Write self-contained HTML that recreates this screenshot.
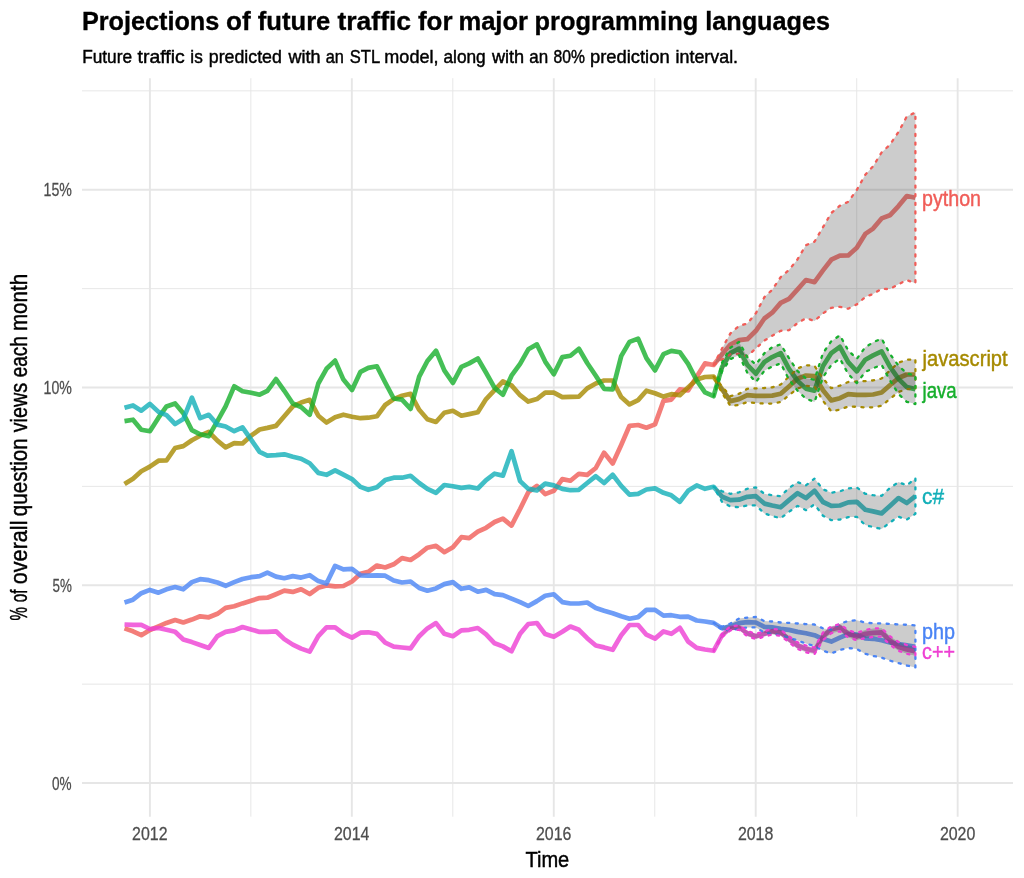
<!DOCTYPE html>
<html lang="en"><head><meta charset="utf-8"><title>Projections of future traffic for major programming languages</title>
<style>html,body{margin:0;padding:0;background:#fff}body{width:1024px;height:878px;overflow:hidden}svg{display:block}text{font-family:"Liberation Sans",sans-serif}.tk{font-size:18.3px;fill:#4D4D4D;stroke:#4D4D4D;stroke-width:.27px}.ax{font-size:22.3px;fill:#000;stroke:#000;stroke-width:.45px}.lb{font-size:21.6px;stroke-width:.42px}</style></head><body>
<svg width="1024" height="878" viewBox="0 0 1024 878">
<rect width="1024" height="878" fill="#fff"/>
<g stroke="#E6E6E6" fill="none">
<line x1="82.00" x2="1013.00" y1="684.16" y2="684.16" stroke-width="0.95"/>
<line x1="82.00" x2="1013.00" y1="486.39" y2="486.39" stroke-width="0.95"/>
<line x1="82.00" x2="1013.00" y1="288.61" y2="288.61" stroke-width="0.95"/>
<line x1="82.00" x2="1013.00" y1="90.84" y2="90.84" stroke-width="0.95"/>
<line x1="250.87" x2="250.87" y1="78.20" y2="816.70" stroke-width="0.95"/>
<line x1="452.81" x2="452.81" y1="78.20" y2="816.70" stroke-width="0.95"/>
<line x1="654.75" x2="654.75" y1="78.20" y2="816.70" stroke-width="0.95"/>
<line x1="856.69" x2="856.69" y1="78.20" y2="816.70" stroke-width="0.95"/>
<line x1="82.00" x2="1013.00" y1="783.05" y2="783.05" stroke-width="1.9"/>
<line x1="82.00" x2="1013.00" y1="585.27" y2="585.27" stroke-width="1.9"/>
<line x1="82.00" x2="1013.00" y1="387.50" y2="387.50" stroke-width="1.9"/>
<line x1="82.00" x2="1013.00" y1="189.72" y2="189.72" stroke-width="1.9"/>
<line x1="149.90" x2="149.90" y1="78.20" y2="816.70" stroke-width="1.9"/>
<line x1="351.84" x2="351.84" y1="78.20" y2="816.70" stroke-width="1.9"/>
<line x1="553.78" x2="553.78" y1="78.20" y2="816.70" stroke-width="1.9"/>
<line x1="755.72" x2="755.72" y1="78.20" y2="816.70" stroke-width="1.9"/>
<line x1="957.66" x2="957.66" y1="78.20" y2="816.70" stroke-width="1.9"/>
</g>
<g fill="none" stroke-width="4.7" stroke-linejoin="round" stroke-linecap="butt" stroke-opacity="0.8">
<polyline stroke="#F05D58" points="124.5,628.4 133.0,631.3 141.3,635.2 149.9,630.0 158.5,626.4 166.5,622.9 175.1,620.0 183.3,622.5 191.9,619.6 200.2,616.3 208.8,617.3 217.4,613.8 225.6,607.9 234.2,606.3 242.5,603.4 251.1,600.7 259.6,598.1 267.4,597.7 276.0,594.2 284.3,590.7 292.8,591.9 301.1,589.3 309.7,594.0 318.3,587.8 326.5,585.4 335.1,586.4 343.4,586.0 352.0,581.5 360.5,573.7 368.3,571.8 376.9,565.5 385.2,567.5 393.7,564.3 402.0,558.1 410.6,560.0 419.2,554.2 427.4,547.7 436.0,545.8 444.3,552.2 452.9,547.3 461.4,537.2 469.2,538.2 477.8,531.7 486.1,527.8 494.6,522.0 502.9,518.6 511.5,525.6 520.1,509.0 528.3,492.2 536.9,485.9 545.2,494.1 553.8,490.8 562.3,479.1 570.4,480.7 578.9,473.8 587.2,474.8 595.8,468.0 604.1,452.7 612.7,463.5 621.2,444.9 629.5,425.8 638.1,425.0 646.4,427.7 655.0,424.4 663.5,400.9 671.3,399.6 679.8,389.4 688.1,390.4 696.7,376.7 705.0,363.4 713.6,365.0 722.1,354.3 730.4,344.5 739.0,340.2 747.3,339.2 755.9,330.8 764.4,318.5 772.2,312.7 780.7,302.9 789.0,298.8 797.6,289.3 805.9,280.0 814.5,282.1 823.0,270.4 831.3,259.7 839.9,255.6 848.2,255.4 856.8,247.8 865.3,233.9 873.1,228.6 881.6,218.4 889.9,215.3 898.5,206.1 906.8,196.0 915.4,197.7"/>
<polyline stroke="#A68A00" points="124.5,484.1 133.0,478.7 141.3,471.2 149.9,466.6 158.5,460.7 166.5,460.5 175.1,448.0 183.3,446.1 191.9,440.2 200.2,435.7 208.8,431.8 217.4,440.6 225.6,447.4 234.2,443.1 242.5,443.5 251.1,435.7 259.6,429.5 267.4,427.9 276.0,425.9 284.3,416.2 292.8,406.4 301.1,402.6 309.7,399.8 318.3,415.7 326.5,422.5 335.1,417.3 343.4,414.7 352.0,416.7 360.5,418.2 368.3,417.7 376.9,416.3 385.2,405.0 393.7,399.1 402.0,395.8 410.6,393.8 419.2,409.8 427.4,419.2 436.0,422.0 444.3,412.8 452.9,410.8 461.4,415.7 469.2,414.1 477.8,412.2 486.1,399.1 494.6,390.1 502.9,381.5 511.5,385.4 520.1,395.2 528.3,401.6 536.9,399.1 545.2,392.7 553.8,392.7 562.3,397.1 570.4,396.8 578.9,396.6 587.2,388.4 595.8,383.5 604.1,380.5 612.7,380.5 621.2,397.1 629.5,404.4 638.1,400.1 646.4,390.7 655.0,393.2 663.5,396.6 671.3,394.2 679.8,395.2 688.1,387.4 696.7,379.6 705.0,377.0 713.6,376.6 722.1,389.3 730.4,401.1 739.0,399.1 747.3,395.2 755.9,395.8 764.4,395.8 772.2,395.6 780.7,393.8 789.0,386.4 797.6,378.6 805.9,375.5 814.5,376.0 823.0,390.2 831.3,400.4 839.9,398.2 848.2,394.1 856.8,394.9 865.3,394.9 873.1,394.5 881.6,392.5 889.9,385.2 898.5,378.0 906.8,374.5 915.4,374.5"/>
<polyline stroke="#16AF2C" points="124.5,421.1 133.0,419.7 141.3,429.8 149.9,431.2 158.5,417.7 166.5,406.4 175.1,403.5 183.3,413.2 191.9,430.2 200.2,434.3 208.8,436.1 217.4,421.1 225.6,406.4 234.2,386.3 242.5,391.2 251.1,392.7 259.6,394.7 267.4,390.8 276.0,379.1 284.3,390.8 292.8,403.5 301.1,407.1 309.7,414.8 318.3,383.5 326.5,368.8 335.1,360.6 343.4,379.6 352.0,389.9 360.5,371.8 368.3,367.9 376.9,366.3 385.2,382.5 393.7,398.5 402.0,399.7 410.6,408.9 419.2,376.6 427.4,361.0 436.0,350.7 444.3,370.4 452.9,382.9 461.4,366.9 469.2,363.4 477.8,358.5 486.1,372.7 494.6,387.9 502.9,394.8 511.5,375.7 520.1,363.9 528.3,349.3 536.9,344.4 545.2,361.6 553.8,374.3 562.3,357.1 570.4,355.7 578.9,348.7 587.2,363.0 595.8,375.7 604.1,388.8 612.7,389.3 621.2,356.1 629.5,341.9 638.1,338.6 646.4,358.1 655.0,370.4 663.5,354.2 671.3,350.9 679.8,352.2 688.1,363.9 696.7,380.5 705.0,392.3 713.6,396.2 722.1,366.9 730.4,353.2 739.0,348.7 747.3,364.9 755.9,373.7 764.4,362.0 772.2,357.1 780.7,353.2 789.0,368.8 797.6,380.9 805.9,388.6 814.5,390.6 823.0,366.1 831.3,353.1 839.9,346.8 848.2,362.2 856.8,371.3 865.3,359.7 873.1,355.4 881.6,351.4 889.9,366.6 898.5,378.8 906.8,387.1 915.4,389.1"/>
<polyline stroke="#12AFB8" points="124.5,407.8 133.0,405.4 141.3,410.7 149.9,403.9 158.5,411.9 166.5,415.2 175.1,424.0 183.3,419.1 191.9,397.6 200.2,418.1 208.8,414.8 217.4,424.6 225.6,426.5 234.2,431.2 242.5,427.3 251.1,439.6 259.6,451.9 267.4,455.6 276.0,455.2 284.3,454.3 292.8,456.8 301.1,458.7 309.7,463.3 318.3,472.9 326.5,474.8 335.1,470.3 343.4,474.6 352.0,479.1 360.5,486.9 368.3,489.8 376.9,487.3 385.2,480.1 393.7,477.7 402.0,477.7 410.6,475.8 419.2,483.0 427.4,488.9 436.0,492.8 444.3,485.0 452.9,486.3 461.4,487.9 469.2,486.9 477.8,488.5 486.1,480.1 494.6,473.7 502.9,475.6 511.5,451.2 520.1,481.1 528.3,488.9 536.9,490.4 545.2,483.6 553.8,485.4 562.3,488.9 570.4,490.2 578.9,489.8 587.2,483.0 595.8,476.2 604.1,483.0 612.7,474.8 621.2,485.9 629.5,494.7 638.1,493.8 646.4,489.5 655.0,488.3 663.5,492.8 671.3,495.3 679.8,501.8 688.1,490.8 696.7,485.4 705.0,488.8 713.6,486.8 722.1,496.8 730.4,500.1 739.0,499.7 747.3,496.8 755.9,496.2 764.4,503.6 772.2,505.5 780.7,507.3 789.0,500.1 797.6,493.2 805.9,498.1 814.5,490.7 823.0,502.0 831.3,505.9 839.9,505.5 848.2,502.4 856.8,501.8 865.3,509.8 873.1,511.4 881.6,513.4 889.9,505.9 898.5,498.1 906.8,503.0 915.4,496.2"/>
<polyline stroke="#4A84F5" points="124.5,602.4 133.0,599.7 141.3,593.2 149.9,589.9 158.5,592.7 166.5,589.3 175.1,587.0 183.3,589.3 191.9,582.1 200.2,579.2 208.8,580.2 217.4,582.5 225.6,585.8 234.2,582.1 242.5,579.0 251.1,577.2 259.6,576.1 267.4,572.7 276.0,576.6 284.3,578.2 292.8,576.1 301.1,577.6 309.7,575.2 318.3,581.1 326.5,583.5 335.1,565.9 343.4,569.4 352.0,568.8 360.5,575.3 368.3,575.7 376.9,575.3 385.2,575.7 393.7,580.5 402.0,582.5 410.6,581.5 419.2,588.0 427.4,590.7 436.0,588.4 444.3,584.1 452.9,582.1 461.4,588.8 469.2,587.4 477.8,591.7 486.1,589.9 494.6,594.2 502.9,595.1 511.5,598.6 520.1,602.1 528.3,606.0 536.9,601.1 545.2,595.7 553.8,594.3 562.3,602.1 570.4,603.5 578.9,603.5 587.2,602.5 595.8,608.0 604.1,610.7 612.7,613.2 621.2,616.2 629.5,618.7 638.1,617.1 646.4,609.9 655.0,609.9 663.5,615.6 671.3,615.2 679.8,616.8 688.1,616.6 696.7,620.5 705.0,621.5 713.6,622.9 722.1,628.4 730.4,626.4 739.0,623.1 747.3,622.1 755.9,622.5 764.4,626.8 772.2,627.4 780.7,628.8 789.0,629.9 797.6,631.9 805.9,633.2 814.5,635.2 823.0,639.1 831.3,641.6 839.9,637.7 848.2,634.2 856.8,634.6 865.3,638.3 873.1,638.8 881.6,640.3 889.9,642.4 898.5,644.0 906.8,645.4 915.4,646.9"/>
<polyline stroke="#EE3FD3" points="124.5,624.5 133.0,624.9 141.3,624.9 149.9,629.0 158.5,628.0 166.5,629.8 175.1,631.7 183.3,639.5 191.9,642.1 200.2,645.0 208.8,647.9 217.4,636.2 225.6,631.9 234.2,630.4 242.5,627.0 251.1,629.4 259.6,631.9 267.4,631.9 276.0,631.3 284.3,639.1 292.8,644.6 301.1,648.6 309.7,651.6 318.3,636.2 326.5,627.4 335.1,627.4 343.4,633.7 352.0,637.6 360.5,632.7 368.3,632.3 376.9,633.9 385.2,642.7 393.7,646.6 402.0,647.5 410.6,648.3 419.2,636.2 427.4,628.4 436.0,623.1 444.3,633.7 452.9,636.2 461.4,630.4 469.2,629.8 477.8,628.0 486.1,634.3 494.6,643.3 502.9,646.4 511.5,651.3 520.1,633.8 528.3,624.0 536.9,623.0 545.2,634.1 553.8,636.7 562.3,631.8 570.4,626.5 578.9,629.8 587.2,638.2 595.8,645.5 604.1,647.4 612.7,649.8 621.2,635.3 629.5,625.0 638.1,625.0 646.4,634.7 655.0,638.6 663.5,631.4 671.3,633.8 679.8,627.8 688.1,641.5 696.7,647.9 705.0,649.5 713.6,650.8 722.1,635.2 730.4,628.0 739.0,627.4 747.3,633.2 755.9,636.2 764.4,633.8 772.2,631.3 780.7,632.7 789.0,639.1 797.6,645.5 805.9,648.9 814.5,650.8 823.0,636.2 831.3,629.3 839.9,627.4 848.2,633.8 856.8,636.6 865.3,633.8 873.1,632.8 881.6,632.3 889.9,640.5 898.5,646.9 906.8,649.5 915.4,651.4"/>
</g>
<g fill="#333" fill-opacity="0.25" stroke-width="2.3" stroke-dasharray="2.1 6.5" stroke-linecap="round" stroke-linejoin="round">
<polygon stroke="#F05D58" points="713.6,365.0 722.1,348.4 730.4,333.4 739.0,325.9 747.3,323.6 755.9,313.2 764.4,297.1 772.2,289.8 780.7,277.1 789.0,270.0 797.6,259.2 805.9,245.2 814.5,241.7 823.0,227.2 831.3,213.0 839.9,205.7 848.2,201.8 856.8,189.9 865.3,174.7 873.1,166.2 881.6,152.5 889.9,144.7 898.5,132.0 906.8,116.4 915.4,112.5 915.4,283.3 906.8,280.0 898.5,284.3 889.9,289.1 881.6,288.8 873.1,294.0 865.3,297.0 856.8,304.4 848.2,308.7 839.9,306.8 831.3,307.8 823.0,313.4 814.5,320.9 805.9,318.3 797.6,323.0 789.0,330.2 780.7,330.8 772.2,335.7 764.4,340.6 755.9,348.4 747.3,356.2 739.0,353.9 730.4,354.3 722.1,359.5 713.6,365.0"/>
<polygon stroke="#A68A00" points="713.6,376.6 722.1,386.4 730.4,396.2 739.0,393.8 747.3,388.8 755.9,388.4 764.4,388.0 772.2,387.4 780.7,384.5 789.0,376.6 797.6,368.4 805.9,365.2 814.5,365.8 823.0,378.5 831.3,388.2 839.9,385.6 848.2,382.0 856.8,381.4 865.3,381.1 873.1,380.4 881.6,378.5 889.9,370.5 898.5,362.7 906.8,359.8 915.4,359.2 915.4,389.1 906.8,389.1 898.5,392.0 889.9,398.9 881.6,405.8 873.1,407.3 865.3,407.4 856.8,406.8 848.2,406.5 839.9,409.7 831.3,411.3 823.0,400.9 814.5,386.3 805.9,385.9 797.6,388.4 789.0,395.2 780.7,402.0 772.2,403.6 764.4,403.6 755.9,403.0 747.3,402.0 739.0,405.0 730.4,405.9 722.1,393.2 713.6,376.6"/>
<polygon stroke="#16AF2C" points="713.6,396.2 722.1,362.6 730.4,347.7 739.0,341.9 747.3,357.1 755.9,364.5 764.4,353.2 772.2,347.3 780.7,344.4 789.0,358.1 797.6,371.2 805.9,378.3 814.5,379.7 823.0,353.1 831.3,341.2 839.9,335.3 848.2,350.4 856.8,358.8 865.3,347.2 873.1,342.3 881.6,338.6 889.9,353.9 898.5,365.7 906.8,373.5 915.4,375.4 915.4,404.1 906.8,401.8 898.5,394.0 889.9,380.3 881.6,364.8 873.1,368.3 865.3,371.9 856.8,383.1 848.2,373.9 839.9,358.6 831.3,365.0 823.0,377.2 814.5,401.9 805.9,398.7 797.6,390.7 789.0,379.6 780.7,363.4 772.2,366.5 764.4,370.8 755.9,382.1 747.3,372.7 739.0,355.2 730.4,359.1 722.1,371.2 713.6,396.2"/>
<polygon stroke="#12AFB8" points="713.6,486.8 722.1,491.3 730.4,493.8 739.0,492.3 747.3,488.8 755.9,487.4 764.4,493.8 772.2,495.2 780.7,496.2 789.0,488.0 797.6,482.1 805.9,485.4 814.5,478.6 823.0,489.3 831.3,492.7 839.9,491.3 848.2,488.4 856.8,487.4 865.3,493.8 873.1,495.2 881.6,495.8 889.9,488.0 898.5,482.1 906.8,485.4 915.4,478.2 915.4,513.8 906.8,519.6 898.5,516.7 889.9,522.5 881.6,529.0 873.1,527.0 865.3,525.1 856.8,516.9 848.2,517.1 839.9,519.6 831.3,520.2 823.0,515.7 814.5,504.4 805.9,510.2 797.6,505.9 789.0,511.8 780.7,518.2 772.2,516.1 764.4,513.4 755.9,505.4 747.3,505.5 739.0,507.3 730.4,506.5 722.1,502.0 713.6,486.8"/>
<polygon stroke="#4A84F5" points="713.6,622.9 722.1,626.8 730.4,623.5 739.0,618.6 747.3,617.6 755.9,617.0 764.4,621.1 772.2,621.5 780.7,622.5 789.0,622.9 797.6,623.5 805.9,624.1 814.5,624.5 823.0,628.4 831.3,629.6 839.9,623.7 848.2,621.0 856.8,620.2 865.3,622.7 873.1,623.3 881.6,623.5 889.9,623.9 898.5,624.5 906.8,624.8 915.4,625.4 915.4,667.4 906.8,665.5 898.5,663.1 889.9,660.6 881.6,657.7 873.1,655.9 865.3,653.9 856.8,648.9 848.2,648.1 839.9,650.0 831.3,653.4 823.0,650.8 814.5,645.9 805.9,643.6 797.6,640.5 789.0,637.7 780.7,635.2 772.2,633.8 764.4,632.7 755.9,627.4 747.3,627.4 739.0,628.8 730.4,630.3 722.1,629.9 713.6,622.9"/>
<polygon stroke="#EE3FD3" points="713.6,650.8 722.1,633.8 730.4,626.4 739.0,625.4 747.3,630.9 755.9,633.8 764.4,631.3 772.2,628.8 780.7,629.9 789.0,636.2 797.6,642.4 805.9,645.5 814.5,647.5 823.0,632.5 831.3,626.2 839.9,624.1 848.2,630.3 856.8,633.0 865.3,629.9 873.1,628.6 881.6,628.2 889.9,636.2 898.5,642.0 906.8,645.0 915.4,646.9 915.4,655.7 906.8,653.8 898.5,650.8 889.9,644.6 881.6,636.6 873.1,636.9 865.3,637.9 856.8,640.3 848.2,637.4 839.9,631.3 831.3,633.2 823.0,640.1 814.5,654.1 805.9,652.2 797.6,648.9 789.0,642.4 780.7,635.8 772.2,634.6 764.4,636.6 755.9,639.1 747.3,636.2 739.0,629.7 730.4,630.3 722.1,637.1 713.6,650.8"/>
</g>
<text class="lb" x="922.0" y="206.1" fill="#F05D58" stroke="#F05D58" textLength="59.0" lengthAdjust="spacingAndGlyphs">python</text>
<text class="lb" x="922.5" y="366.3" fill="#A68A00" stroke="#A68A00" textLength="85.2" lengthAdjust="spacingAndGlyphs">javascript</text>
<text class="lb" x="922.5" y="397.6" fill="#16AF2C" stroke="#16AF2C" textLength="34.2" lengthAdjust="spacingAndGlyphs">java</text>
<text class="lb" x="922.0" y="504.1" fill="#12AFB8" stroke="#12AFB8" textLength="22.0" lengthAdjust="spacingAndGlyphs">c#</text>
<text class="lb" x="922.0" y="638.5" fill="#4A84F5" stroke="#4A84F5" textLength="33.0" lengthAdjust="spacingAndGlyphs">php</text>
<text class="lb" x="922.0" y="658.6" fill="#EE3FD3" stroke="#EE3FD3" textLength="33.0" lengthAdjust="spacingAndGlyphs">c++</text>
<text y="30.00" font-size="26.6px" font-weight="bold" fill="#000" stroke="#000" stroke-width=".35"><tspan x="81.90" textLength="137.41" lengthAdjust="spacingAndGlyphs">Projections</tspan> <tspan x="226.01" textLength="24.68" lengthAdjust="spacingAndGlyphs">of</tspan> <tspan x="257.82" textLength="72.52" lengthAdjust="spacingAndGlyphs">future</tspan> <tspan x="337.44" textLength="73.65" lengthAdjust="spacingAndGlyphs">traffic</tspan> <tspan x="417.98" textLength="34.56" lengthAdjust="spacingAndGlyphs">for</tspan> <tspan x="458.41" textLength="69.59" lengthAdjust="spacingAndGlyphs">major</tspan> <tspan x="534.62" textLength="163.54" lengthAdjust="spacingAndGlyphs">programming</tspan> <tspan x="705.35" textLength="124.57" lengthAdjust="spacingAndGlyphs">languages</tspan></text>
<text y="62.80" font-size="18.5px" fill="#000" stroke="#000" stroke-width=".45"><tspan x="82.13" textLength="49.94" lengthAdjust="spacingAndGlyphs">Future</tspan> <tspan x="137.58" textLength="47.15" lengthAdjust="spacingAndGlyphs">traffic</tspan> <tspan x="190.34" textLength="12.44" lengthAdjust="spacingAndGlyphs">is</tspan> <tspan x="208.79" textLength="73.06" lengthAdjust="spacingAndGlyphs">predicted</tspan> <tspan x="288.48" textLength="32.07" lengthAdjust="spacingAndGlyphs">with</tspan> <tspan x="325.73" textLength="18.16" lengthAdjust="spacingAndGlyphs">an</tspan> <tspan x="349.76" textLength="29.78" lengthAdjust="spacingAndGlyphs">STL</tspan> <tspan x="384.34" textLength="54.16" lengthAdjust="spacingAndGlyphs">model,</tspan> <tspan x="443.44" textLength="42.29" lengthAdjust="spacingAndGlyphs">along</tspan> <tspan x="491.95" textLength="32.28" lengthAdjust="spacingAndGlyphs">with</tspan> <tspan x="529.32" textLength="18.87" lengthAdjust="spacingAndGlyphs">an</tspan> <tspan x="553.55" textLength="31.36" lengthAdjust="spacingAndGlyphs">80%</tspan> <tspan x="590.05" textLength="79.56" lengthAdjust="spacingAndGlyphs">prediction</tspan> <tspan x="675.55" textLength="62.52" lengthAdjust="spacingAndGlyphs">interval.</tspan></text>
<text class="tk" x="52.0" y="789.8" textLength="19.6" lengthAdjust="spacingAndGlyphs">0%</text>
<text class="tk" x="52.5" y="592.0" textLength="19.3" lengthAdjust="spacingAndGlyphs">5%</text>
<text class="tk" x="43.6" y="394.2" textLength="28.3" lengthAdjust="spacingAndGlyphs">10%</text>
<text class="tk" x="43.6" y="196.4" textLength="28.3" lengthAdjust="spacingAndGlyphs">15%</text>
<text class="tk" x="132.1" y="839.7" textLength="35.4" lengthAdjust="spacingAndGlyphs">2012</text>
<text class="tk" x="334.0" y="839.7" textLength="35.4" lengthAdjust="spacingAndGlyphs">2014</text>
<text class="tk" x="536.0" y="839.7" textLength="35.4" lengthAdjust="spacingAndGlyphs">2016</text>
<text class="tk" x="737.9" y="839.7" textLength="35.4" lengthAdjust="spacingAndGlyphs">2018</text>
<text class="tk" x="939.9" y="839.7" textLength="35.4" lengthAdjust="spacingAndGlyphs">2020</text>
<text class="ax" x="525.4" y="866.6" textLength="43.9" lengthAdjust="spacingAndGlyphs">Time</text>
<text y="0.00" class="ax" style="font-size:23.2px" transform="translate(26.85,620.0) rotate(-90)"><tspan x="-0.50" textLength="13.41" lengthAdjust="spacingAndGlyphs">%</tspan> <tspan x="17.69" textLength="12.82" lengthAdjust="spacingAndGlyphs">of</tspan> <tspan x="35.82" textLength="63.63" lengthAdjust="spacingAndGlyphs">overall</tspan> <tspan x="103.82" textLength="77.94" lengthAdjust="spacingAndGlyphs">question</tspan> <tspan x="187.65" textLength="49.61" lengthAdjust="spacingAndGlyphs">views</tspan> <tspan x="242.75" textLength="41.07" lengthAdjust="spacingAndGlyphs">each</tspan> <tspan x="288.92" textLength="57.38" lengthAdjust="spacingAndGlyphs">month</tspan></text>
</svg></body></html>
